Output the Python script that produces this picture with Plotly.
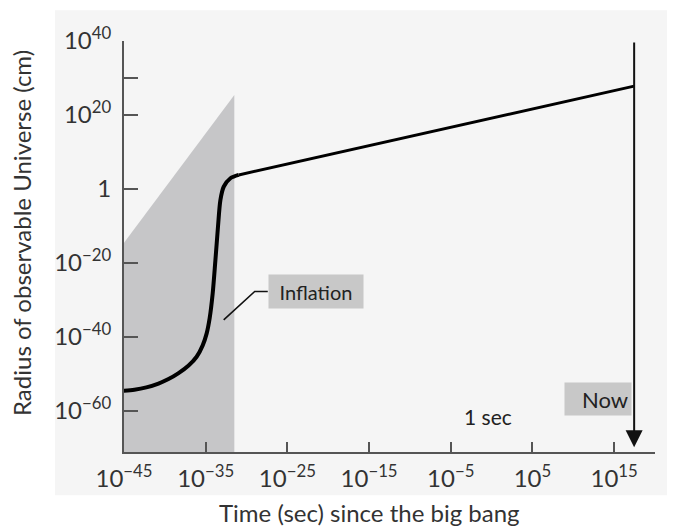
import numpy as np
import plotly.graph_objects as go

# ---------------- data ----------------
# inflationary curve: time since big bang (s) and radius of observable universe (cm)
curve_time_s = [6.3e-46, 1.86e-44, 5.5e-43, 1.66e-41, 2.8e-40, 4.8e-39, 8.1e-38, 7.8e-37,
                4.3e-36, 1.32e-35, 3.1e-35, 7.2e-35, 1.55e-34, 3.2e-34, 6.3e-34, 1.6e-33,
                1.07e-32, 1.1e-31]
curve_radius_cm = [2.5e-55, 5.4e-55, 2.4e-54, 2.6e-53, 4.2e-52, 1.7e-50, 1.9e-48, 4.5e-46,
                   5.4e-43, 9.3e-40, 1.4e-35, 6.3e-29, 6.3e-20, 6.3e-11, 1e-3, 4,
                   800, 6.3e3]
# post-inflation expansion (straight on log-log axes)
later_time_s = [1.1e-31, 2.8e17]
later_radius_cm = [6.3e3, 6.3e27]
# shaded inflation band (polygon)
band_time_s = [6.3e-46, 6.3e-46, 3.2e-32, 3.2e-32]
band_radius_cm = [1e-75, 7.9e-16, 2.5e25, 1e-75]

now_time_s = 2.8e17
one_sec = 1.0

x_tickvals = [1e-45, 1e-35, 1e-25, 1e-15, 1e-5, 1e5, 1e15]
x_ticktext = ["10<sup>−45</sup>", "10<sup>−35</sup>", "10<sup>−25</sup>",
              "10<sup>−15</sup>", "10<sup>−5</sup>", "10<sup>5</sup>", "10<sup>15</sup>"]
y_tickvals = [1e40, 1e30, 1e20, 1, 1e-20, 1e-40, 1e-60]
y_ticktext = ["10<sup>40</sup>", "", "10<sup>20</sup>", "1", "10<sup>−20</sup>",
              "10<sup>−40</sup>", "10<sup>−60</sup>"]

X_RANGE = [-45.0, 20.0]
Y_RANGE = [-71.1, 40.0]

FONT = "Lato"
TXT = "#333333"
AXC = "#555555"

fig = go.Figure()

# shaded band
fig.add_trace(go.Scatter(x=band_time_s, y=band_radius_cm, mode="lines", fill="toself",
                         fillcolor="#c6c6c8", line=dict(width=0), hoverinfo="skip",
                         showlegend=False))
# inflation curve
fig.add_trace(go.Scatter(x=curve_time_s, y=curve_radius_cm, mode="lines",
                         line=dict(color="#000000", width=4, shape="spline", smoothing=0.8),
                         showlegend=False))
# later expansion
fig.add_trace(go.Scatter(x=later_time_s, y=later_radius_cm, mode="lines",
                         line=dict(color="#000000", width=3), showlegend=False))
# leader line for the "Inflation" label
fig.add_trace(go.Scatter(x=[3.98e-28, 1e-29, 1.6e-33], y=[2e-28, 2e-28, 4e-36],
                         mode="lines", line=dict(color="#111111", width=1.6),
                         showlegend=False, hoverinfo="skip"))

shapes = [
    # light scan panel behind the chart
    dict(type="rect", xref="paper", yref="paper", x0=-0.13, x1=1.03, y0=-0.105, y1=1.075,
         fillcolor="#f5f5f5", line=dict(width=0), layer="below"),
    # longer tick at 1 sec
    dict(type="line", xref="x", yref="paper", x0=np.log10(one_sec), x1=np.log10(one_sec),
         y0=0, y1=0.042, line=dict(color=AXC, width=2)),
]

annotations = [
    # Now arrow
    dict(x=np.log10(now_time_s), y=-69.8, ax=np.log10(now_time_s), ay=40,
         xref="x", yref="y", axref="x", ayref="y", text="", showarrow=True,
         arrowhead=2, arrowsize=1.7, arrowwidth=2, arrowcolor="#111111"),
    dict(x=np.log10(now_time_s), y=-56.8, xref="x", yref="y", xanchor="right",
         yanchor="middle", text="Now", showarrow=False, xshift=-2,
         font=dict(family=FONT, size=22, color="#222222"), bgcolor="#c8c8c8",
         width=60, height=26, borderpad=3, align="right"),
    dict(x=np.log10(one_sec), y=-61.6, xref="x", yref="y", text="1 sec", showarrow=False,
         xshift=-4, font=dict(family=FONT, size=21, color="#222222")),
    dict(x=-27.4, y=-27.7, xref="x", yref="y", xanchor="left", yanchor="middle",
         text="Inflation", showarrow=False,
         font=dict(family=FONT, size=20, color="#222222"), bgcolor="#c8c8c8",
         width=88, height=27, borderpad=3),
    # axis titles
    dict(x=0.463, y=-0.148, xref="paper", yref="paper", xanchor="center", yanchor="middle",
         text="Time (sec) since the big bang", showarrow=False,
         font=dict(family=FONT, size=24, color=TXT)),
    dict(x=-0.192, y=0.533, xref="paper", yref="paper", xanchor="center", yanchor="middle",
         text="Radius of observable Universe (cm)", showarrow=False, textangle=-90,
         font=dict(family=FONT, size=24, color=TXT)),
]

# the page body keeps an 8px default margin, so the figure is sized to fit inside it
fig.update_layout(
    width=667, height=519,
    margin=dict(l=116, r=20, t=33, b=75),
    paper_bgcolor="#ffffff", plot_bgcolor="rgba(0,0,0,0)",
    font=dict(family=FONT, color=TXT),
    shapes=shapes, annotations=annotations,
    showlegend=False,
)
fig.update_xaxes(type="log", range=X_RANGE, tickmode="array", tickvals=x_tickvals,
                 ticktext=x_ticktext, ticks="inside", ticklen=10, tickwidth=2, tickcolor=AXC,
                 showline=True, linecolor=AXC, linewidth=2, showgrid=False, zeroline=False,
                 automargin=False,
                 tickfont=dict(family=FONT, size=24, color=TXT), ticklabelstandoff=4)
fig.update_yaxes(type="log", range=Y_RANGE, tickmode="array", tickvals=y_tickvals,
                 ticktext=y_ticktext, ticks="inside", ticklen=14, tickwidth=2, tickcolor=AXC,
                 showline=True, linecolor=AXC, linewidth=2, showgrid=False, zeroline=False,
                 automargin=False,
                 tickfont=dict(family=FONT, size=24, color=TXT), ticklabelstandoff=6)

fig.write_html("out.html")
